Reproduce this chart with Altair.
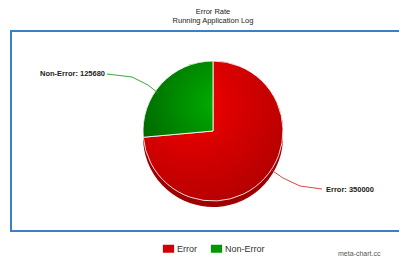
import altair as alt
import pandas as pd

# ---- data ----
categories = ["Error", "Non-Error"]
values = [350000, 125680]
colors = ["#d20000", "#009a00"]
title_text = "Error Rate"
subtitle_text = "Running Application Log"
credit_text = "meta-chart.cc"

df = pd.DataFrame({"category": categories, "value": values})
one = pd.DataFrame({"k": [0]})

W, H = 391, 250
CX, CY, R = 205, 123, 70
FONT = "Liberation Sans"

red_grad = {
    "gradient": "radial",
    "stops": [{"offset": 0, "color": "#f40000"}, {"offset": 1, "color": "#ad0000"}],
    "x1": 0.35, "y1": 0.3, "x2": 0.35, "y2": 0.3, "r1": 0, "r2": 0.85,
}
green_grad = {
    "gradient": "radial",
    "stops": [{"offset": 0, "color": "#00ad00"}, {"offset": 1, "color": "#006400"}],
    "x1": 1, "y1": 0.55, "x2": 1, "y2": 0.55, "r1": 0, "r2": 1.1,
}

base = alt.Chart(df)

depth = base.mark_arc(radius=R, fill="#9e0000").encode(
    theta=alt.Theta("value:Q", stack=True),
    order=alt.Order("category:N"),
    x=alt.value(CX), y=alt.value(CY + 6),
)

solid = base.mark_arc(radius=R).encode(
    theta=alt.Theta("value:Q", stack=True),
    order=alt.Order("category:N"),
    color=alt.Color(
        "category:N",
        scale=alt.Scale(domain=categories, range=colors),
        legend=alt.Legend(
            orient="none", legendX=156, legendY=236, direction="horizontal",
            title=None, symbolType="M-1.4,-1H1.4V1H-1.4Z", symbolSize=64,
            symbolStrokeWidth=0, labelFont=FONT, labelFontSize=9,
            labelColor="#333", columnPadding=13, symbolOpacity=1,
        ),
    ),
    x=alt.value(CX), y=alt.value(CY),
)

shaded = base.mark_arc(radius=R, stroke="white", strokeWidth=1, strokeOpacity=0.85).encode(
    theta=alt.Theta("value:Q", stack=True),
    order=alt.Order("category:N"),
    fill=alt.condition("datum.category == 'Error'", alt.value(red_grad), alt.value(green_grad)),
    x=alt.value(CX), y=alt.value(CY),
)

FRAME = "#3a80c4"

def rule(x1, y1, x2, y2, color, width=0.9):
    return alt.Chart(one).mark_rule(color=color, strokeWidth=width).encode(
        x=alt.value(x1), y=alt.value(y1), x2=alt.value(x2), y2=alt.value(y2)
    )

frame = [
    rule(2, 23, W, 23, FRAME, 2),
    rule(2, 223, W, 223, FRAME, 2),
    rule(3, 22, 3, 224, FRAME, 2),
]

leaders = [
    rule(99, 66, 124, 69, "#2a9a2a"),
    rule(124, 69, 140, 77, "#2a9a2a"),
    rule(140, 77, 150, 85, "#2a9a2a"),
    rule(314, 181, 292, 178, "#d43030"),
    rule(292, 178, 275, 170, "#d43030"),
    rule(275, 170, 262, 161, "#d43030"),
]

lab_ne = base.transform_filter("datum.category == 'Non-Error'").transform_calculate(
    label="datum.category + ': ' + datum.value"
).mark_text(align="right", baseline="middle", font=FONT, fontSize=7.5, fontWeight="bold", color="#222").encode(
    text="label:N", x=alt.value(97), y=alt.value(66)
)
lab_e = base.transform_filter("datum.category == 'Error'").transform_calculate(
    label="datum.category + ': ' + datum.value"
).mark_text(align="left", baseline="middle", font=FONT, fontSize=7.5, fontWeight="bold", color="#222").encode(
    text="label:N", x=alt.value(318), y=alt.value(182)
)

def txt(s, x, y, size, color, align="center", baseline="top"):
    return alt.Chart(one).mark_text(text=s, font=FONT, fontSize=size, color=color, align=align, baseline=baseline).encode(
        x=alt.value(x), y=alt.value(y)
    )

title = txt(title_text, 205, 0, 7.5, "#222")
subtitle = txt(subtitle_text, 205, 9, 7.5, "#222")
credit = txt(credit_text, 330, 249, 7, "#555", align="left", baseline="bottom")

chart = alt.layer(
    *frame, depth, solid, shaded, *leaders, lab_ne, lab_e, title, subtitle, credit
).properties(
    width=W, height=H, autosize=alt.AutoSizeParams(type="none"), padding=0
).configure_view(stroke=None)

chart.save("out.html", embed_options={"renderer": "svg", "actions": False})
